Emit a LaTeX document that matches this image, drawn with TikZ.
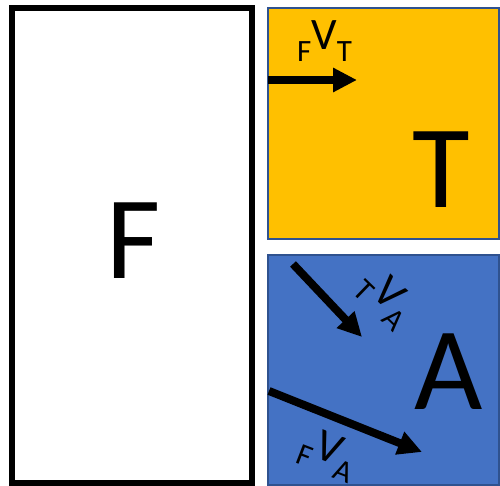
\documentclass[tikz,border=0pt]{standalone}
\usepackage{fontspec}
\setmainfont{Carlito}
\usetikzlibrary{arrows.meta}
\definecolor{gold}{HTML}{FFC000}
\definecolor{officeblue}{HTML}{4472C4}
\definecolor{edgeblue}{HTML}{2F528F}
\tikzset{
  panel/.style={draw=edgeblue, line width=2pt},
  bigletter/.style={anchor=base, inner sep=0pt, font=\fontsize{118}{118}\selectfont},
  vlabel/.style={anchor=base, inner sep=0pt, font=\fontsize{45}{45}\selectfont},
  vec/.style={line width=8pt, -{Triangle[length=24pt,width=23pt]}}
}
\newcommand{\subsz}[1]{\lower12pt\hbox{\fontsize{31}{31}\selectfont #1}}
\begin{document}
\begin{tikzpicture}[x=1pt,y=-1pt]
\useasboundingbox (0,0) rectangle (500,486);
\fill[white] (0,0) rectangle (500,486);
% F box
\draw[line width=6pt] (12,8) rectangle (251.5,482.5);
% T box and A box
\filldraw[panel, fill=gold] (268,8) rectangle (498.5,238.5);
\filldraw[panel, fill=officeblue] (268,255) rectangle (498.5,485);
% big letters
\node[bigletter] (F) at (133.5,278) {F};
\node[bigletter] (T) at (441,208) {T};
\node[bigletter] (A) at (449,409) {A};
% vector F->T
\coordinate (fts) at (268,80);
\coordinate (fte) at (357,80);
\draw[vec] (fts) -- (fte);
\node[vlabel] (lfvt) at (324.5,50) {\subsz{F}V\subsz{T}};
% vector T->A
\coordinate (tas) at (293,264);
\coordinate (tae) at (362,337);
\draw[vec] (tas) -- (tae);
\node[vlabel, rotate=-44] (ltva) at (381,304) {\subsz{T}V\subsz{A}};
% vector F->A
\coordinate (fas) at (269,391);
\coordinate (fae) at (422,452);
\draw[vec] (fas) -- (fae);
\node[vlabel, rotate=-21] (lfva) at (326,462) {\subsz{F}V\subsz{A}};
\end{tikzpicture}
\end{document}
